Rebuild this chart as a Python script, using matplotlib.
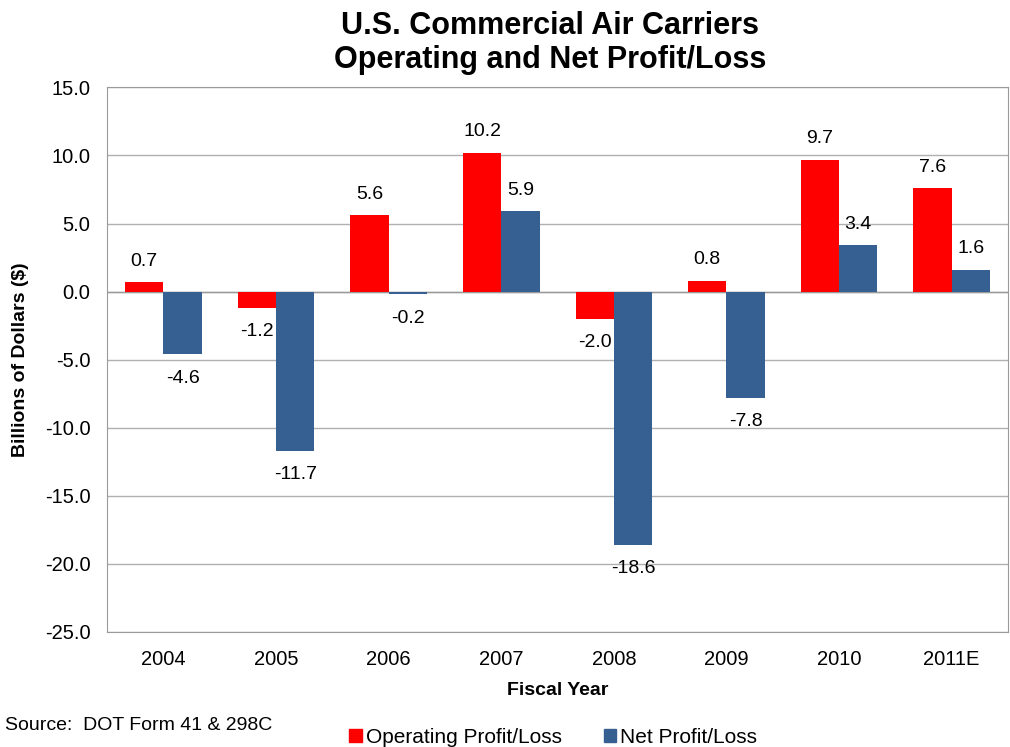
import numpy as np
import matplotlib
matplotlib.use('Agg')
import matplotlib.pyplot as plt
from matplotlib.patches import Patch

plt.rcParams['font.family'] = ['Liberation Sans', 'DejaVu Sans']

years = ['2004', '2005', '2006', '2007', '2008', '2009', '2010', '2011E']
operating = [0.7, -1.2, 5.6, 10.2, -2.0, 0.8, 9.7, 7.6]
net = [-4.6, -11.7, -0.2, 5.9, -18.6, -7.8, 3.4, 1.6]

red = '#ff0000'
blue = '#376092'

fig = plt.figure(figsize=(10.1, 7.47), dpi=100)
ax = fig.add_axes([0.106, 0.154, 0.892, 0.729])

x = np.arange(len(years))
w = 0.34
b1 = ax.bar(x - w / 2, operating, w, color=red, zorder=3)
b2 = ax.bar(x + w / 2, net, w, color=blue, zorder=3)

for bars, vals in [(b1, operating), (b2, net)]:
    for bar, v in zip(bars, vals):
        cx = bar.get_x() + bar.get_width() / 2
        if v >= 0:
            ax.annotate('%.1f' % v, (cx, v), xytext=(0, 9), textcoords='offset points',
                        ha='center', va='bottom', fontsize=14)
        else:
            ax.annotate('%.1f' % v, (cx, v), xytext=(0, -11), textcoords='offset points',
                        ha='center', va='top', fontsize=14)

ax.set_xlim(-0.5, len(years) - 0.5)
ax.set_ylim(-25, 15)
ax.set_yticks(np.arange(-25, 16, 5))
ax.set_yticklabels(['%.1f' % t for t in np.arange(-25, 16, 5)], fontsize=14.5)
ax.set_xticks(x)
ax.set_xticklabels(years, fontsize=14.5)
ax.tick_params(axis='both', length=0)
ax.tick_params(axis='x', pad=13)
ax.tick_params(axis='y', pad=12)
ax.grid(axis='y', color='#b0b0b0', linewidth=1, zorder=0)
for s in ax.spines.values():
    s.set_color('#9a9a9a')
ax.axhline(0, color='#9a9a9a', linewidth=1, zorder=2)

ax.set_xlabel('Fiscal Year', fontsize=14, fontweight='bold', labelpad=9)
ax.set_ylabel('Billions of Dollars ($)', fontsize=14, fontweight='bold', labelpad=11)

fig.text(0.545, 0.985, 'U.S. Commercial Air Carriers\nOperating and Net Profit/Loss',
         ha='center', va='top', fontsize=22, fontweight='bold', linespacing=1.15)

fig.text(0.005, 0.029, 'Source:  DOT Form 41 & 298C', fontsize=14, va='center')
handles = [Patch(color=red), Patch(color=blue)]
fig.legend(handles, ['Operating Profit/Loss', 'Net Profit/Loss'], loc='center',
           bbox_to_anchor=(0.548, 0.013), ncol=2, frameon=False, fontsize=15,
           handlelength=0.6, handleheight=0.6, handletextpad=0.2, columnspacing=2.0,
           borderpad=0)

fig.savefig('out.png', dpi=100)
